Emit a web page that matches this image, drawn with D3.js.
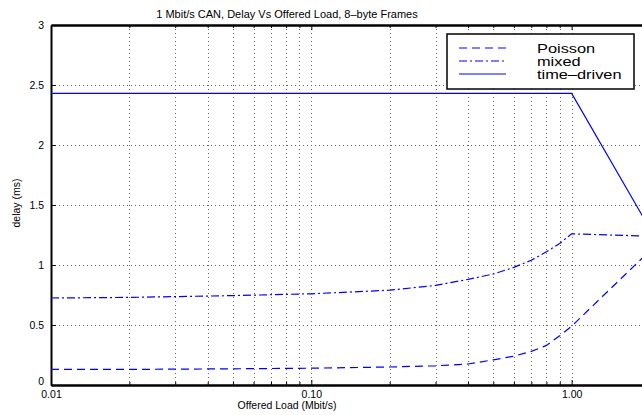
<!DOCTYPE html>
<html>
<head>
<meta charset="utf-8">
<script src="https://cdn.jsdelivr.net/npm/d3@7"></script>
<style>
  html, body { margin: 0; padding: 0; background: #fff; overflow: hidden; }
  svg { display: block; font-family: "Liberation Sans", Arial, sans-serif; }
</style>
</head>
<body>
<svg id="chart" width="642" height="415"></svg>
<script>
// offered load (Mbit/s) at which delays were read
const loads = [0.01, 0.02, 0.05, 0.1, 0.2, 0.3, 0.4, 0.5, 0.6, 0.7, 0.8, 0.9, 1.0, 2.0]
const poisson = [0.13, 0.13, 0.135, 0.14, 0.15, 0.16, 0.175, 0.21, 0.24, 0.28, 0.33, 0.41, 0.49, 1.12]
const mixed = [0.725, 0.73, 0.745, 0.76, 0.79, 0.83, 0.88, 0.925, 0.98, 1.04, 1.11, 1.18, 1.26, 1.24]
const timeDriven = [2.43, 2.43, 2.43, 2.43, 2.43, 2.43, 2.43, 2.43, 2.43, 2.43, 2.43, 2.43, 2.43, 1.3]

const xMajor = [0.01, 0.1, 1]
const xMinor = [0.02, 0.03, 0.04, 0.05, 0.06, 0.07, 0.08, 0.09,
  0.2, 0.3, 0.4, 0.5, 0.6, 0.7, 0.8, 0.9, 2]
const yTicks = [0, 0.5, 1, 1.5, 2, 2.5, 3]

const series = [
  { name: 'Poisson', values: poisson, dash: '8,5' },
  { name: 'mixed', values: mixed, dash: '8,3,2,3' },
  { name: 'time\u2013driven', values: timeDriven, dash: null },
]

const svg = d3.select('#chart')
const plotLeft = 51, plotRight = 650, plotTop = 25, plotBottom = 385

const x = d3.scaleLog().domain([0.01, 2]).range([plotLeft, plotRight])
const y = d3.scaleLinear().domain([0, 3]).range([plotBottom, plotTop])

// grid (dotted)
const grid = svg.append('g').attr('class', 'grid')
  .attr('stroke', '#666').attr('stroke-width', 1).attr('stroke-dasharray', '1,3')
grid.selectAll('.vg')
  .data(xMinor.concat([0.1, 1]))
  .enter().append('line')
  .attr('x1', d => Math.round(x(d)) + 0.5).attr('x2', d => Math.round(x(d)) + 0.5)
  .attr('y1', plotTop).attr('y2', plotBottom)
grid.selectAll('.hg')
  .data(yTicks.slice(1, -1))
  .enter().append('line')
  .attr('y1', d => Math.round(y(d)) + 0.5).attr('y2', d => Math.round(y(d)) + 0.5)
  .attr('x1', plotLeft).attr('x2', plotRight)

// axes: ticks pointing inward
const fmtY = d => String(d)
const axB = svg.append('g').attr('transform', `translate(0,${plotBottom})`)
  .call(d3.axisBottom(x).tickValues(xMajor).tickSizeInner(-5).tickSizeOuter(0)
    .tickPadding(8).tickFormat(d3.format('.2f')))
const axBm = svg.append('g').attr('transform', `translate(0,${plotBottom})`)
  .call(d3.axisBottom(x).tickValues(xMinor).tickSizeInner(-3).tickSizeOuter(0).tickFormat(''))
const axT = svg.append('g').attr('transform', `translate(0,${plotTop})`)
  .call(d3.axisTop(x).tickValues(xMajor).tickSizeInner(-5).tickSizeOuter(0).tickFormat(''))
const axTm = svg.append('g').attr('transform', `translate(0,${plotTop})`)
  .call(d3.axisTop(x).tickValues(xMinor).tickSizeInner(-3).tickSizeOuter(0).tickFormat(''))
const axL = svg.append('g').attr('transform', `translate(${plotLeft},0)`)
  .call(d3.axisLeft(y).tickValues(yTicks).tickSizeInner(-5).tickSizeOuter(0)
    .tickPadding(7).tickFormat(fmtY))

;[axB, axBm, axT, axTm, axL].forEach(a => {
  a.select('.domain').attr('stroke', '#000').attr('stroke-width', 2)
  a.selectAll('.tick line').attr('stroke', '#000').attr('stroke-width', 1)
  a.selectAll('.tick text').attr('fill', '#000').style('font-size', '10.5px')
})
axB.selectAll('.tick text').attr('dy', '0.45em')
// the "0" label sits a little above its tick, clear of "0.01"
axL.selectAll('.tick text').filter(d => d === 0).attr('dy', '-0.05em')

// data lines
const line = d3.line()
  .x((d, i) => x(loads[i]))
  .y(d => y(d))

svg.append('defs').append('clipPath').attr('id', 'plot-clip')
  .append('rect').attr('x', plotLeft).attr('y', plotTop)
  .attr('width', plotRight - plotLeft).attr('height', plotBottom - plotTop)

svg.append('g').attr('clip-path', 'url(#plot-clip)')
  .selectAll('path.series')
  .data(series)
  .enter().append('path')
  .attr('class', 'series')
  .attr('d', d => line(d.values))
  .attr('fill', 'none')
  .attr('stroke', '#0000ff')
  .attr('stroke-width', 1.2)
  .attr('stroke-dasharray', d => d.dash)

// legend
const lg = svg.append('g').attr('transform', 'translate(447,34)')
lg.append('rect')
  .attr('width', 187).attr('height', 55)
  .attr('fill', '#fff').attr('stroke', '#000').attr('stroke-width', 1.5)
const rows = lg.selectAll('.row')
  .data(series)
  .enter().append('g')
  .attr('transform', (d, i) => `translate(0,${14 + i * 13})`)
rows.append('line')
  .attr('x1', 12).attr('x2', 59).attr('y1', 0).attr('y2', 0)
  .attr('stroke', '#0000ff').attr('stroke-width', 1.2)
  .attr('stroke-dasharray', d => d.dash)
rows.append('text')
  .attr('x', 90).attr('y', 5)
  .style('font-size', '13px')
  .attr('transform', 'scale(1.26,1)')
  .attr('transform-origin', '90 0')
  .text(d => d.name)

// titles
svg.append('text')
  .attr('x', 287).attr('y', 18)
  .attr('text-anchor', 'middle')
  .style('font-size', '11px')
  .text('1 Mbit/s CAN, Delay Vs Offered Load, 8\u2013byte Frames')

svg.append('text')
  .attr('x', 287).attr('y', 409)
  .attr('text-anchor', 'middle')
  .style('font-size', '10.5px')
  .text('Offered Load (Mbit/s)')

svg.append('text')
  .attr('transform', 'translate(20,203) rotate(-90)')
  .attr('text-anchor', 'middle')
  .style('font-size', '10.5px')
  .text('delay (ms)')
</script>
</body>
</html>
